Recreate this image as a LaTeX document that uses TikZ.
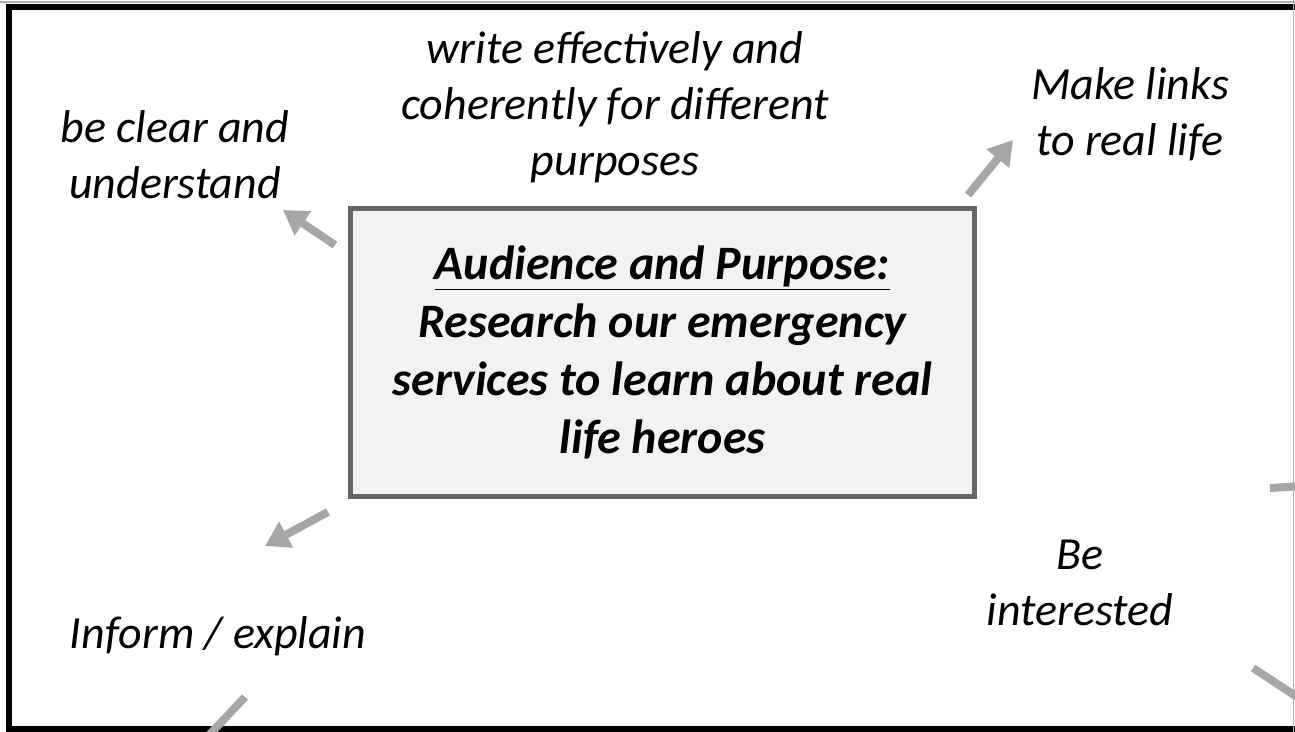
\documentclass[tikz,border=0pt]{standalone}
\usepackage{fontspec}
\setmainfont{Carlito}
\usetikzlibrary{arrows.meta}
\begin{document}
\begin{tikzpicture}[x=0.5pt, y=-0.5pt,
    label/.style={font=\fontsize{23}{28}\selectfont\itshape, align=center, inner sep=0pt},
    mainbox/.style={rectangle, draw=black!60, line width=2.5pt, fill=black!5, minimum width=312pt, minimum height=144pt, align=center, font=\fontsize{24}{29}\selectfont\bfseries\itshape},
    arrow/.style={-{Triangle[length=12pt, width=14pt]}, line width=4pt, draw=black!35},
    stub/.style={line width=4pt, draw=black!35}
]
    \useasboundingbox (0,0) rectangle (1295,732);
    \clip (0,0) rectangle (1295,732);

    % frame
    \draw[black!30, line width=0.6pt] (0,2) -- (1295,2);
    \draw[line width=3pt] (9,7) rectangle (1320,729);
    \draw[black!30, line width=0.8pt] (1293.5,0) -- (1293.5,732);

    \node[mainbox] (purpose) at (662.5,352.5) {\underline{Audience and Purpose:}\\Research our emergency\\services to learn about real\\life heroes};

    \node[label] (write) at (615,107) {write effectively and\\coherently for different\\purposes};
    \node[label] (clear) at (175,155) {be clear and\\understand};
    \node[label] (links) at (1130,114) {Make links\\to real life};
    \node[label] (inform) at (218,636) {Inform / explain};
    \node[label] (interested) at (1080,583) {Be\\interested};

    % arrow ends
    \coordinate (t1) at (335,245);
    \coordinate (h1) at (283,210);
    \coordinate (t2) at (968,195);
    \coordinate (h2) at (1013,140);
    \coordinate (t3) at (328,512);
    \coordinate (h3) at (265,546);
    \coordinate (t4) at (245,697);
    \coordinate (h4) at (195,750);
    \coordinate (t5) at (1270,488);
    \coordinate (h5) at (1320,485);
    \coordinate (t6) at (1253,668);
    \coordinate (h6) at (1320,712);

    \draw[arrow] (t1) -- (h1);
    \draw[arrow] (t2) -- (h2);
    \draw[arrow] (t3) -- (h3);
    \draw[stub] (t4) -- (h4);
    \draw[stub] (t5) -- (h5);
    \draw[stub] (t6) -- (h6);
\end{tikzpicture}
\end{document}
